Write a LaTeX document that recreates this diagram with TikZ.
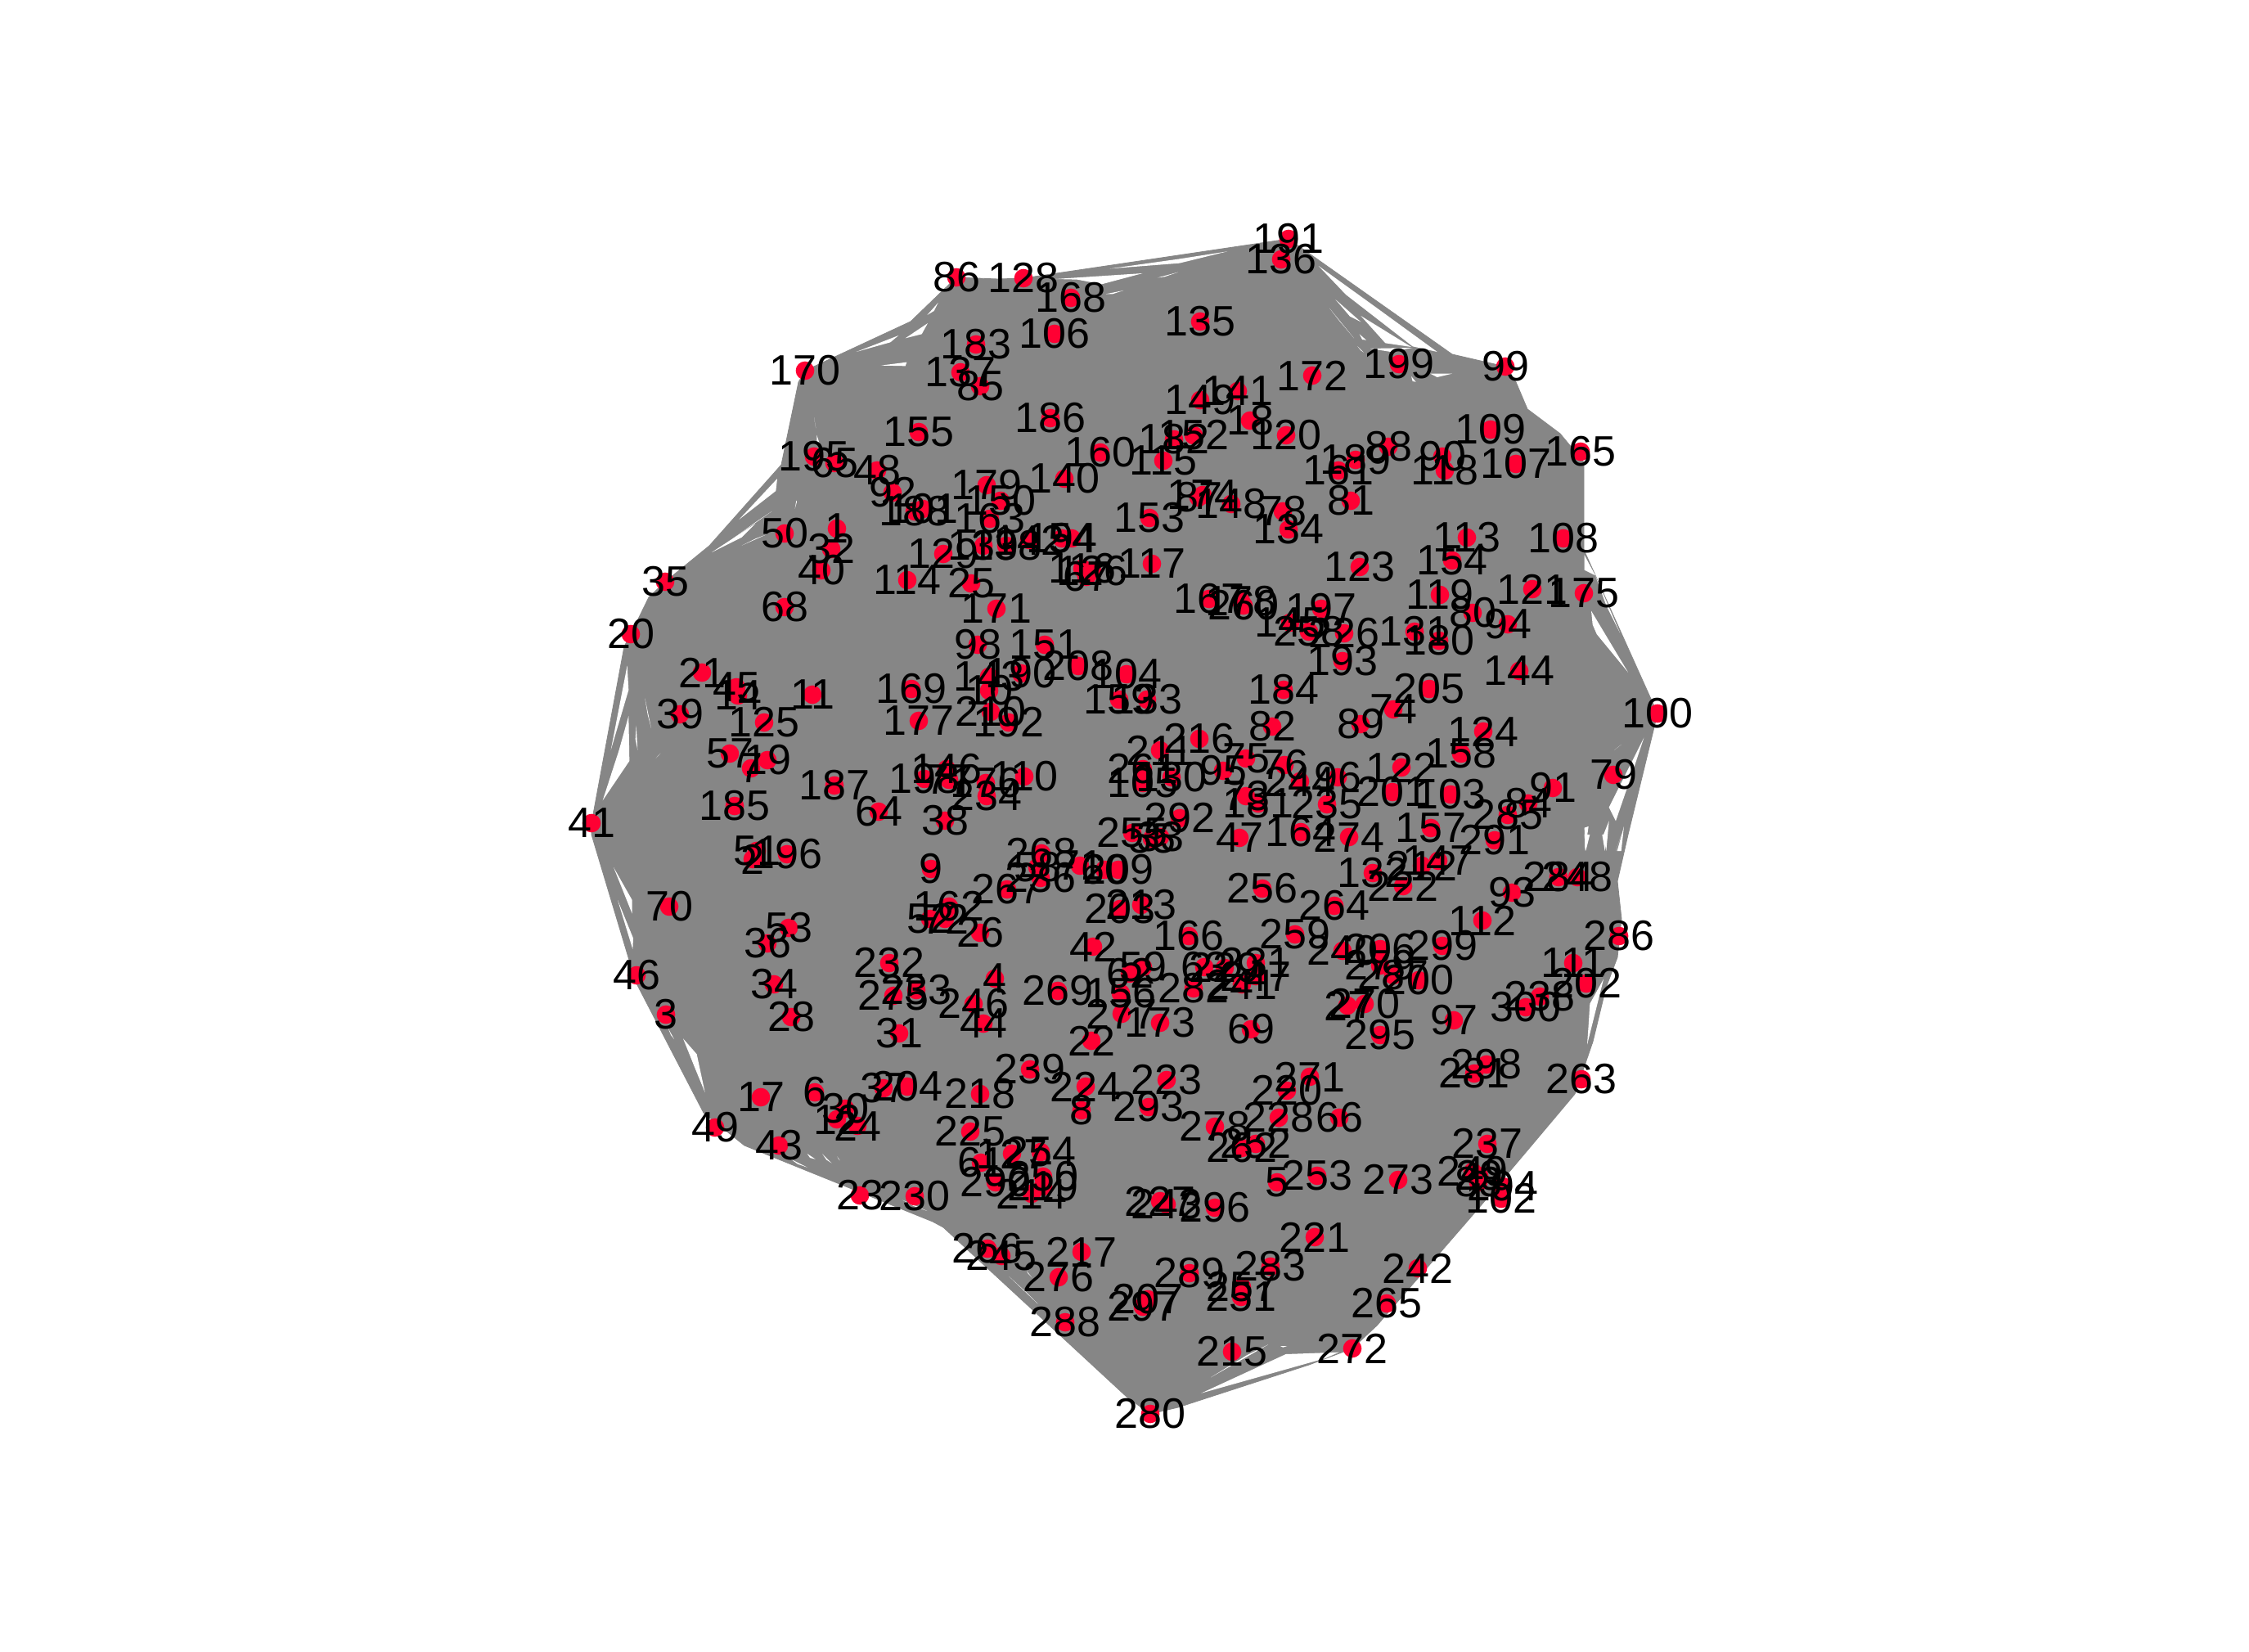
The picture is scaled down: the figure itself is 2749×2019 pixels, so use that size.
\documentclass[tikz,border=0pt]{standalone}
\usepackage{fontspec}
\setmainfont{Liberation Sans}
\definecolor{edgegray}{HTML}{868686}
\definecolor{vertexred}{HTML}{FF0033}
\newcommand\allnodes{1/1023/646,2/920/1050,3/814/1240,4/1216/1196,5/1561/1445,6/996/1335,7/918/939,8/1322/1357,9/1138/1062,10/1209/844,
11/993/849,12/1023/1368,14/902/850,17/930/1341,18/1528/514,19/938/929,20/771/775,21/858/822,22/1334/1272,23/1051/1461,24/1048/1376,25/1187/713,26/1198/1140,27/1647/1229,28/967/1243,29/1808/1437,30/1033/1355,
31/1099/1263,32/1016/671,33/1418/1023,34/946/1203,35/813/711,36/938/1153,37/1080/1330,38/1155/1003,39/831/873,40/1004/697,41/723/1006,42/1336/1157,43/952/1400,44/1202/1251,45/900/840,46/778/1192,47/1515/1024,48/1072/575,49/874/1378,50/959/652,
51/925/1040,52/1137/1123,53/964/1134,54/1310/658,55/1408/1025,57/892/921,58/1268/1060,59/1397/1182,60/1350/1063,61/1199/1421,62/1381/1190,63/1472/1182,64/1074/992,65/1020/566,66/1637/1366,67/1328/705,68/959/742,69/1529/1258,70/818/1108,
71/1320/1058,72/1155/1123,73/1523/973,74/1703/867,75/1523/927,76/1570/935,77/1160/953,78/1568/625,79/1972/947,80/1800/749,81/1651/612,82/1555/888,83/1807/1445,84/1868/982,85/1198/472,86/1169/339,87/1465/608,88/1697/546,89/1663/885,90/1763/558,
91/1898/963,92/1091/602,93/1848/1091,94/1843/763,95/1495/942,96/1635/950,97/1777/1247,98/1195/788,99/1840/448,100/2026/872,101/1128/622,102/1835/1465,103/1773/971,104/1377/824,105/1397/957,106/1289/408,107/1853/567,108/1911/658,109/1822/525,110/1252/949,
111/1923/1177,112/1812/1125,113/1793/657,114/1109/709,115/1422/563,116/1323/695,117/1408/689,118/1766/575,119/1760/727,120/1572/532,121/1873/720,122/1713/938,123/1662/693,124/1813/894,125/934/883,126/1335/698,127/1237/1410,128/1251/340,129/1153/677,130/1432/950,
131/1729/772,132/1678/1067,133/1402/855,134/1575/647,135/1467/393,136/1566/317,137/1174/455,138/1230/667,139/1202/667,140/1301/585,141/1513/478,142/1258/660,143/1209/827,144/1857/820,145/1577/761,146/1157/940,147/1758/1052,148/1505/616,149/1467/489,150/1223/612,
151/1277/788,152/1459/532,153/1405/633,154/1775/685,155/1123/528,156/1370/1214,157/1749/1012,158/1786/921,159/1368/855,160/1345/553,161/1636/575,162/1160/1108,163/1210/634,164/1590/1017,165/1932/552,166/1453/1144,167/1478/732,168/1309/364,169/1114/842,170/984/453,
171/1218/744,172/1604/459,173/1418/1250,174/1470/605,175/1936/725,176/1205/957,177/1123/881,178/1517/735,179/1206/593,180/1759/783,181/1538/982,182/1435/537,183/1193/421,184/1569/843,185/898/985,186/1284/511,187/1020/960,188/1118/625,189/1657/562,190/1248/823,
191/1575/292,192/1233/883,193/1641/808,194/1298/658,195/995/558,196/962/1044,197/1615/744,198/1130/952,199/1710/445,200/1734/1198,201/1702/968,202/1939/1202,203/1369/1111,204/1109/1328,205/1747/842,206/1687/1160,207/1403/1588,208/1318/814,209/1367/1063,210/1211/870,
211/1418/917,212/1738/1058,213/1395/1106,214/1261/1459,215/1506/1652,216/1466/903,217/1322/1530,218/1198/1337,219/1275/1450,220/1573/1333,221/1607/1512,222/1715/1083,223/1426/1320,224/1327/1328,225/1186/1383,226/1643/774,227/1418/1468,228/1563/1366,229/1497/1183,230/1118/1462,
231/1535/1177,232/1087/1177,233/1120/1210,234/1206/973,235/1622/983,236/1272/1073,237/1818/1398,238/1882/1218,239/1259/1307,240/1641/1162,241/1518/1203,242/1733/1550,243/1426/1472,244/1589/955,245/1224/1535,246/1190/1227,247/1535/1193,248/1928/1072,249/1800/1432,250/1275/1438,
251/1517/1585,252/1535/1398,253/1610/1437,254/1272/1408,255/1384/1018,256/1543/1086,257/1518/1573,258/1600/772,259/1583/1142,260/1520/740,261/1397/940,262/1518/1403,263/1933/1319,264/1631/1107,265/1695/1593,266/1207/1526,267/1231/1087,268/1273/1043,269/1293/1211,270/1668/1227,
271/1601/1316,272/1653/1648,273/1709/1442,274/1649/1023,275/1092/1217,276/1294/1561,277/1371/1239,278/1485/1377,279/1687/1180,280/1406/1728,281/1802/1312,282/1459/1208,283/1553/1548,284/1905/1072,285/1843/996,286/1979/1144,287/1703/1192,288/1302/1616,289/1454/1556,290/1217/1445,
291/1827/1027,292/1442/1000,293/1404/1353,294/1837/1450,295/1687/1265,296/1485/1476,297/1397/1597,298/1817/1301,299/1763/1156,300/1865/1231}
\tikzset{
  vdot/.style={circle,fill=vertexred,draw=none,inner sep=0pt,minimum size=17pt},
  vlab/.style={inner sep=0pt,text=black,font=\fontsize{39pt}{39pt}\selectfont},
  hullline/.style={fill=edgegray,draw=edgegray,line width=0.6pt,line join=round},
  gap/.style={fill=white,draw=none},
  crop/.style 2 args={shift={(#1,#2)},x=0.25pt,y=-0.25pt}
}
\begin{document}
\begin{tikzpicture}[x=0.75pt,y=-0.75pt]
\useasboundingbox (0,0) rectangle (2749,2019);
\fill[white] (0,0) rectangle (2749,2019);
\foreach \i/\x/\y in \allnodes {\coordinate (c\i) at (\x,\y);}
\foreach \i/\x/\y in {1/1113/393,2/1220/341,3/1775/433,4/1853/467,5/1867/500,6/1907/530,7/1936/565,8/1936/672,9/1990/1020,10/1977/1077,11/1982/1123,12/1977/1170,13/1963/1207,14/1947/1273,15/1925/1337,16/1872/1400,17/1807/1477,18/1683/1620,19/1600/1668,20/1440/1720,21/1377/1707,22/1153/1500,23/1140/1493,24/910/1400,25/860/1360,26/777/1200,27/723/1020,28/763/790,29/793/730,30/867/667,31/955/568,32/976/467}
  {\coordinate (h\i) at (\x,\y);}
\draw[hullline] (c170)--(h1)--(c86)--(h2)--(c128)--(c191)--(h3)--(c99)--(h4)--(h5)--(h6)--(h7)--(h8)--(c100)--(h9)--(h10)--(h11)--(h12)--(h13)--(h14)--(h15)--(h16)--(h17)--(h18)--(c272)--(h19)--(h20)--(c280)--(h21)--(h22)--(h23)--(h24)--(h25)--(h26)--(h27)--(c41)--(h28)--(c20)--(h29)--(c35)--(h30)--(h31)--(h32)--cycle;
% white slivers left between the edges
\begin{scope}[crop={680}{260}]
\fill[gap] (1100,510)--(1255,450)--(1225,475)--cycle (1280,460)--(1362,405)--(1340,445)--cycle (1360,375)--(1400,330)--(1385,360)--cycle (1190,560)--(1285,548)--(1280,562)--cycle (955,815)--(970,860)--(955,840)--cycle (945,750)--(952,790)--(950,780)--cycle (670,1125)--(810,975)--(805,1020)--cycle (640,1200)--(790,1095)--(730,1135)--cycle (875,1085)--(880,1055)--(882,1060)--cycle;
\end{scope}
\begin{scope}[crop={1140}{260}]
\fill[gap] (450,243)--(770,222)--(620,262)--(530,245)--cycle (650,205)--(905,185)--(1080,142)--(900,170)--cycle (635,298)--(700,285)--(660,298)--cycle (825,238)--(900,218)--(850,235)--cycle;
\end{scope}
\begin{scope}[crop={1600}{260}]
\fill[gap] (35,195)--(135,300)--(380,490)--(470,510)--(250,350)--cycle (190,378)--(375,492)--(280,478)--cycle (97,318)--(190,400)--(150,380)--cycle (75,350)--(165,460)--(110,395)--cycle (185,445)--(210,467)--(195,465)--cycle (178,490)--(200,512)--(190,505)--cycle (225,498)--(380,495)--(300,510)--cycle (445,590)--(525,590)--(470,603)--cycle (375,600)--(392,620)--(380,618)--cycle;
\end{scope}
\begin{scope}[crop={680}{640}]
\fill[gap] (260,520)--(265,610)--(200,830)--cycle (265,705)--(268,870)--(170,1015)--(230,830)--cycle (325,640)--(348,750)--(335,700)--cycle (293,740)--(298,830)--(290,790)--cycle (365,860)--(382,842)--(375,850)--cycle (570,105)--(730,0)--(680,50)--cycle (680,80)--(770,40)--(730,55)--cycle;
\end{scope}
\begin{scope}[crop={1600}{640}]
\fill[gap] (1010,115)--(1050,190)--(1010,170)--cycle (1035,320)--(1170,545)--(1055,405)--(1040,370)--cycle (1050,190)--(1140,400)--(1090,300)--cycle (1120,830)--(1145,810)--(1130,822)--cycle (1228,785)--(1100,1040)--(1125,1090)--(1180,930)--cycle (1010,1115)--(1025,1110)--(1012,1200)--cycle (1080,1140)--(1100,1090)--(1090,1200)--cycle (1130,1200)--(1155,1110)--(1145,1200)--cycle;
\end{scope}
\begin{scope}[crop={1600}{1020}]
\fill[gap] (1010,0)--(1030,0)--(1015,60)--cycle (1075,0)--(1095,0)--(1085,60)--cycle (1125,60)--(1145,0)--(1135,30)--cycle (1080,530)--(1030,620)--(1025,700)--(1020,770)--(1050,650)--cycle;
\end{scope}
\begin{scope}[crop={680}{1020}]
\fill[gap] (210,120)--(278,240)--(278,290)--cycle (225,240)--(282,380)--(280,420)--cycle (465,748)--(515,805)--(545,945)--(510,860)--cycle (410,710)--(432,750)--(420,735)--cycle;
\end{scope}
\begin{scope}[crop={680}{1400}]
\fill[gap] (920,30)--(950,50)--(930,45)--cycle (860,50)--(920,80)--(885,68)--cycle (975,30)--(1010,65)--(990,52)--cycle (1030,40)--(1040,55)--(1035,50)--cycle (1270,200)--(1360,240)--(1310,222)--cycle;
\end{scope}
\begin{scope}[crop={1140}{1400}]
\fill[gap] (1020,850)--(1230,730)--(1150,770)--cycle (985,908)--(1295,765)--(1490,758)--(1440,780)--cycle (280,480)--(385,580)--(340,535)--cycle (345,460)--(365,485)--(350,470)--cycle (1275,735)--(1300,735)--(1285,740)--cycle;
\end{scope}
% vertices, then their labels
\foreach \i/\x/\y in \allnodes {\node[vdot] (n\i) at (c\i) {};}
\foreach \i/\x/\y in \allnodes {\node[vlab] (l\i) at (c\i) {\i};}
\end{tikzpicture}
\end{document}
